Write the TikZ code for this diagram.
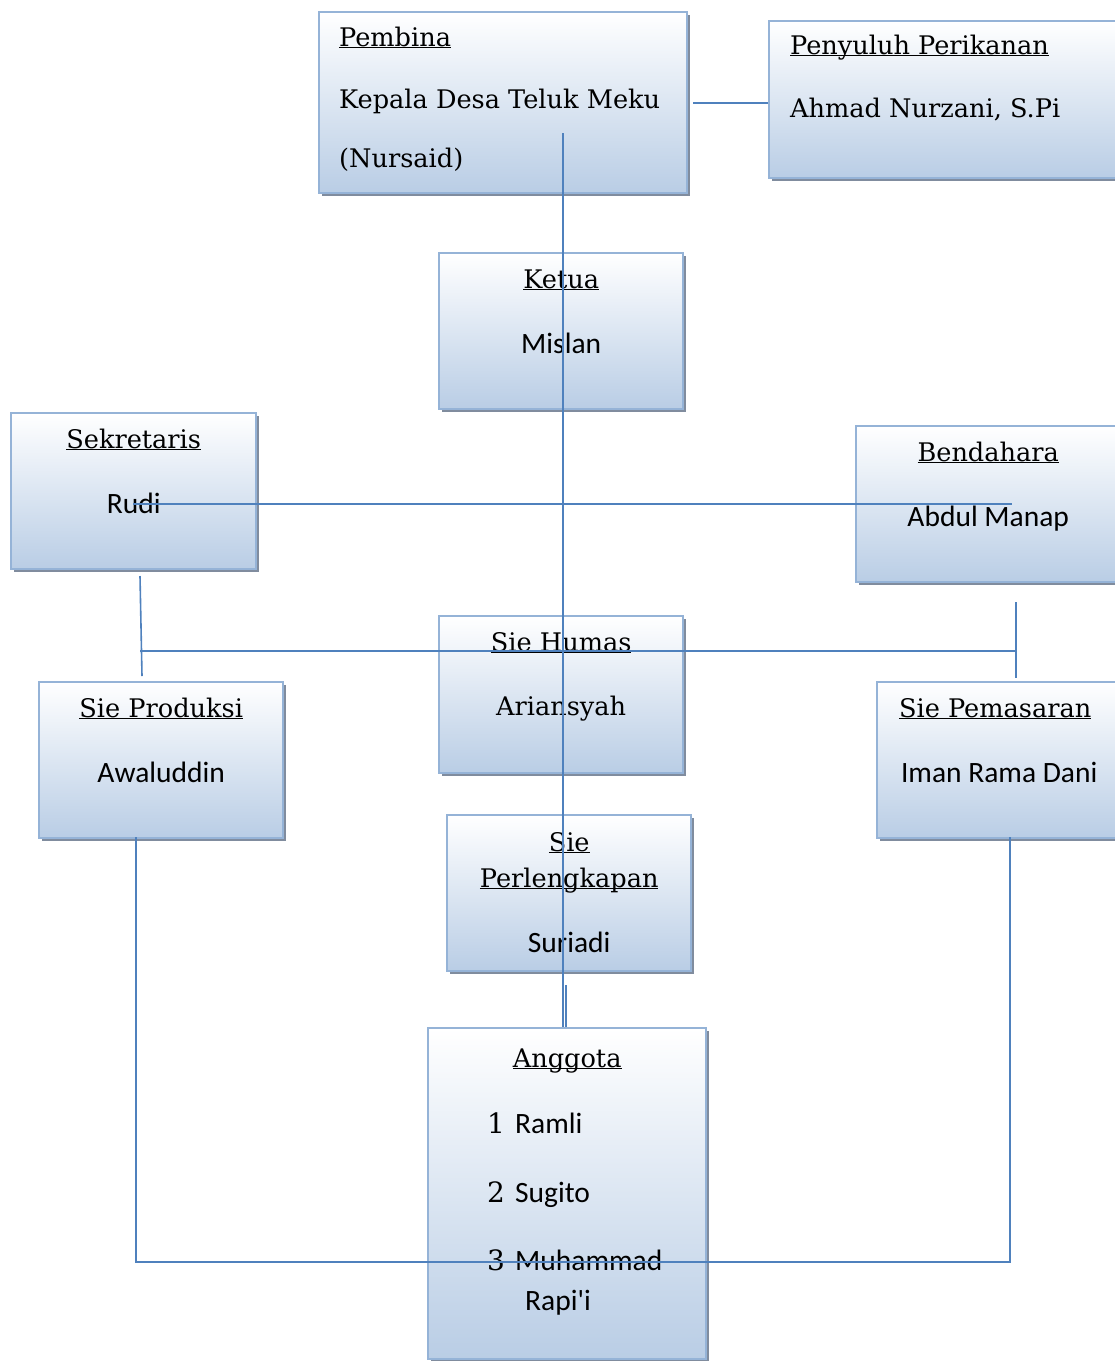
\documentclass[tikz,border=0pt]{standalone}
\usepackage{fontspec}
\setmainfont{DejaVu Serif}
\newfontfamily\namefont{Carlito}
\usepackage{tikz}
\usetikzlibrary{shadows, positioning}
\definecolor{boxline}{RGB}{149,179,215}
\definecolor{boxfill}{RGB}{185,205,229}
\definecolor{linkblue}{RGB}{79,129,189}
\definecolor{shadowgray}{RGB}{128,140,158}
\newcommand{\headul}[1]{\underline{\smash{#1}}}
\tikzset{
  orgbox/.style={rectangle, anchor=north west, inner sep=0pt, draw=boxline, line width=2.4pt,
    top color=white, bottom color=boxfill,
    drop shadow={shadow xshift=3pt, shadow yshift=-3pt, fill=shadowgray, opacity=1}},
  headtxt/.style={inner sep=0pt, anchor=base, font=\fontsize{25.6}{30}\selectfont},
  nametxt/.style={inner sep=0pt, anchor=base, font=\namefont\fontsize{29.5}{34}\selectfont},
  link/.style={draw=linkblue, line width=1.6pt}
}
\begin{document}
\begin{tikzpicture}[x=1pt, y=-1pt]
    \useasboundingbox (0,0) rectangle (1115,1361);
    \clip (0,0) rectangle (1115,1361);

    % Boxes
    \node (pembina) [orgbox, minimum width=368pt, minimum height=181pt] at (318,11) {};
    \node (penyuluh) [orgbox, minimum width=370pt, minimum height=157pt] at (768,20) {};
    \node (ketua) [orgbox, minimum width=244pt, minimum height=156pt] at (438,252) {};
    \node (sekretaris) [orgbox, minimum width=245pt, minimum height=156pt] at (10,412) {};
    \node (bendahara) [orgbox, minimum width=264pt, minimum height=156pt] at (855,425) {};
    \node (humas) [orgbox, minimum width=244pt, minimum height=157pt] at (438,615) {};
    \node (produksi) [orgbox, minimum width=244pt, minimum height=156pt] at (38,681) {};
    \node (pemasaran) [orgbox, minimum width=250pt, minimum height=156pt] at (876,681) {};
    \node (perlengkapan) [orgbox, minimum width=244pt, minimum height=156pt] at (446,814) {};
    \node (anggota) [orgbox, minimum width=278pt, minimum height=331pt] at (427,1027) {};

    % Texts
    \node (pembinaH) [headtxt, anchor=base west] at ([xshift=21pt, yshift=-35pt]pembina.north west) {\headul{Pembina}};
    \node (pembinaN) [headtxt, anchor=base west] at ([xshift=21pt, yshift=-97pt]pembina.north west) {Kepala Desa Teluk Meku};
    \node (pembinaP) [headtxt, anchor=base west] at ([xshift=21pt, yshift=-156pt]pembina.north west) {(Nursaid)};
    \node (penyuluhH) [headtxt, anchor=base west] at ([xshift=22pt, yshift=-34pt]penyuluh.north west) {\headul{Penyuluh Perikanan}};
    \node (penyuluhN) [headtxt, anchor=base west] at ([xshift=22pt, yshift=-97pt]penyuluh.north west) {Ahmad Nurzani, S.Pi};
    \node (ketuaH) [headtxt] at ([yshift=-36pt]ketua.north) {\headul{Ketua}};
    \node (ketuaN) [nametxt] at ([yshift=-101pt]ketua.north) {Mislan};
    \node (sekretarisH) [headtxt] at ([yshift=-36pt]sekretaris.north) {\headul{Sekretaris}};
    \node (sekretarisN) [nametxt] at ([yshift=-101pt]sekretaris.north) {Rudi};
    \node (bendaharaH) [headtxt] at ([yshift=-36pt]bendahara.north) {\headul{Bendahara}};
    \node (bendaharaN) [nametxt] at ([yshift=-101pt]bendahara.north) {Abdul Manap};
    \node (humasH) [headtxt] at ([yshift=-36pt]humas.north) {\headul{Sie Humas}};
    \node (humasN) [headtxt] at ([yshift=-100pt]humas.north) {Ariansyah};
    \node (produksiH) [headtxt] at ([yshift=-36pt]produksi.north) {\headul{Sie Produksi}};
    \node (produksiN) [nametxt] at ([yshift=-101pt]produksi.north) {Awaluddin};
    \node (pemasaranH) [headtxt] at ([xshift=-7pt, yshift=-36pt]pemasaran.north) {\headul{Sie Pemasaran}};
    \node (pemasaranN) [nametxt] at ([xshift=-3pt, yshift=-101pt]pemasaran.north) {Iman Rama Dani};
    \node (perlengkapanH) [headtxt] at ([yshift=-37pt]perlengkapan.north) {\headul{Sie}};
    \node (perlengkapanH2) [headtxt] at ([yshift=-73pt]perlengkapan.north) {\headul{Perlengkapan}};
    \node (perlengkapanN) [nametxt] at ([yshift=-138pt]perlengkapan.north) {Suriadi};
    \node (anggotaH) [headtxt] at ([yshift=-40pt]anggota.north) {\headul{Anggota}};
    \node (no1) [headtxt, anchor=base west, font=\fontsize{28}{32}\selectfont] at (487,1133) {1};
    \node (nama1) [nametxt, anchor=base west] at (515,1133) {Ramli};
    \node (no2) [headtxt, anchor=base west, font=\fontsize{28}{32}\selectfont] at (487,1202) {2};
    \node (nama2) [nametxt, anchor=base west] at (515,1202) {Sugito};
    \node (no3) [headtxt, anchor=base west, font=\fontsize{28}{32}\selectfont] at (487,1270) {3};
    \node (nama3) [nametxt, anchor=base west] at (515,1270) {Muhammad};
    \node (nama3b) [nametxt, anchor=base west] at (525,1310) {Rapi'i};

    % Connectors
    \coordinate (trunktop) at (563,133);
    \coordinate (sekrEnd) at (133,504);
    \coordinate (bendEnd) at (1012,504);
    \coordinate (prodTop) at (140,576);
    \coordinate (prodLow) at (142,676);
    \coordinate (pemTop) at (1016,602);
    \coordinate (pemLow) at (1016,678);
    \coordinate (prodBot) at (136,837);
    \coordinate (pemBot) at (1010,837);
    \coordinate (baseY) at (0,1262);

    \draw [link] ([xshift=5pt]pembina.east) -- (pembina.east -| penyuluh.west);
    \draw [link] (trunktop) -- (trunktop |- anggota.north);
    \draw [link, line width=2.4pt] ([xshift=-1pt, yshift=42pt]anggota.north) -- ([xshift=-1pt]anggota.north);
    \draw [link] (sekrEnd) -- (bendEnd);
    \draw [link] (prodTop) -- (prodLow);
    \draw [link] (pemTop) -- (pemLow);
    \draw [link] (prodTop |- 0,651) -- (pemTop |- 0,651);
    \draw [link] (prodBot) -- (prodBot |- baseY) -- (pemBot |- baseY) -- (pemBot);
\end{tikzpicture}
\end{document}
